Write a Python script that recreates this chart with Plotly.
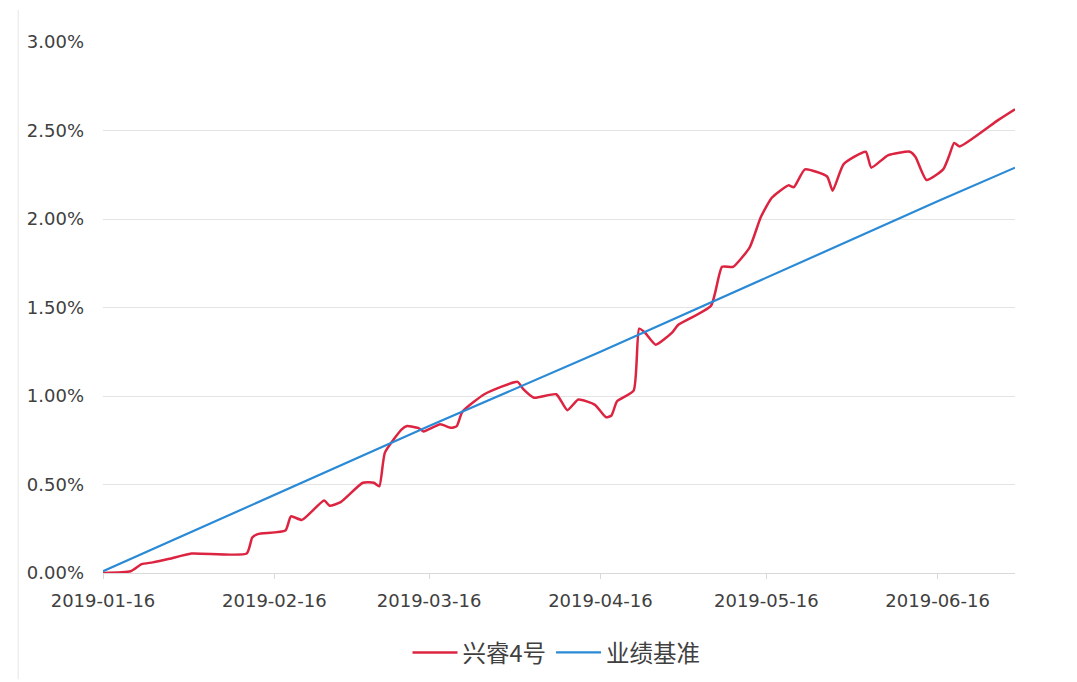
import plotly.graph_objects as go

# 兴睿4号 cumulative return (fraction)
fund_dates = [
    "2019-01-16", "2019-01-21", "2019-01-23", "2019-01-25", "2019-01-28",
    "2019-02-01", "2019-02-11", "2019-02-12", "2019-02-13", "2019-02-18",
    "2019-02-19", "2019-02-21", "2019-02-25", "2019-02-26", "2019-02-28",
    "2019-03-04", "2019-03-06", "2019-03-07", "2019-03-08", "2019-03-11",
    "2019-03-12", "2019-03-14", "2019-03-15", "2019-03-18", "2019-03-20",
    "2019-03-21", "2019-03-22", "2019-03-26", "2019-04-01", "2019-04-02",
    "2019-04-04", "2019-04-08", "2019-04-10", "2019-04-12", "2019-04-15",
    "2019-04-17", "2019-04-18", "2019-04-19", "2019-04-22", "2019-04-23",
    "2019-04-24", "2019-04-26", "2019-04-29", "2019-04-30", "2019-05-06",
    "2019-05-08", "2019-05-10", "2019-05-13", "2019-05-15", "2019-05-17",
    "2019-05-20", "2019-05-21", "2019-05-23", "2019-05-27", "2019-05-28",
    "2019-05-30", "2019-06-03", "2019-06-04", "2019-06-07", "2019-06-11",
    "2019-06-12", "2019-06-14", "2019-06-17", "2019-06-18", "2019-06-19",
    "2019-06-20", "2019-06-27", "2019-06-30",
]
fund_values = [
    0.0000, 0.0001, 0.0005, 0.0006, 0.0008,
    0.0011, 0.0011, 0.0020, 0.0022, 0.0024,
    0.0032, 0.0030, 0.0041, 0.0038, 0.0040,
    0.0051, 0.0051, 0.0049, 0.0068, 0.0081,
    0.0083, 0.0082, 0.0080, 0.0084, 0.0082,
    0.0083, 0.0091, 0.0101, 0.0108, 0.0104,
    0.0099, 0.0101, 0.0092, 0.0098, 0.0095,
    0.0088, 0.0089, 0.0097, 0.0103, 0.0138,
    0.0136, 0.0129, 0.0136, 0.0140, 0.0151,
    0.0173, 0.0173, 0.0184, 0.0201, 0.0212,
    0.0219, 0.0218, 0.0228, 0.0224, 0.0216,
    0.0231, 0.0238, 0.0229, 0.0236, 0.0238,
    0.0235, 0.0222, 0.0228, 0.0235, 0.0243,
    0.0241, 0.0256, 0.0262,
]

# 业绩基准 benchmark (fraction)
bench_dates = ["2019-01-16", "2019-02-16", "2019-03-16", "2019-04-16",
               "2019-05-16", "2019-06-16", "2019-06-30"]
bench_values = [0.0001, 0.0044, 0.0083, 0.0125, 0.0167, 0.0210, 0.0229]

x_ticks = ["2019-01-16", "2019-02-16", "2019-03-16", "2019-04-16",
           "2019-05-16", "2019-06-16"]
y_ticks = [0, 0.005, 0.01, 0.015, 0.02, 0.025, 0.03]

RED = "#dc2441"
BLUE = "#2b8ad6"
TXT = "#404040"

fig = go.Figure()
fig.add_trace(go.Scatter(x=fund_dates, y=fund_values, mode="lines",
                         name="兴睿4号",
                         line=dict(color=RED, width=2.5, shape="spline",
                                   smoothing=0.5)))
fig.add_trace(go.Scatter(x=bench_dates, y=bench_values, mode="lines",
                         name="业绩基准 ", line=dict(color=BLUE, width=2.2)))

fig.update_layout(
    width=1069, height=674,
    margin=dict(l=95, r=62, t=34, b=109, autoexpand=False),
    paper_bgcolor="white", plot_bgcolor="white",
    font=dict(family="DejaVu Sans, Noto Sans CJK SC", color=TXT, size=18),
    showlegend=True,
    legend=dict(orientation="h", x=0.5, xanchor="center", y=-0.15,
                yanchor="middle",
                font=dict(family="Noto Sans CJK SC", size=23.5, color=TXT),
                itemwidth=45, traceorder="normal"),
    xaxis=dict(
        type="date", range=["2019-01-16", "2019-06-30"],
        tickvals=x_ticks, ticktext=x_ticks,
        showgrid=False, zeroline=False,
        showline=True, linecolor="#d9d9d9", linewidth=1,
        ticks="outside", ticklen=5, tickcolor="#d9d9d9",
        ticklabelstandoff=6,
        tickfont=dict(size=18, color=TXT),
    ),
    yaxis=dict(
        range=[0, 0.03], tickvals=y_ticks, tickformat=".2%",
        showgrid=True, gridcolor="#e3e3e3", gridwidth=1,
        zeroline=False, showline=False, ticks="",
        ticklabelstandoff=18,
        tickfont=dict(size=18, color=TXT),
    ),
    shapes=[dict(type="line", xref="paper", yref="paper",
                 x0=-0.093, x1=-0.093, y0=-0.2, y1=1.06,
                 line=dict(color="#e6e6e6", width=1))],
)

fig.write_html("out.html")
